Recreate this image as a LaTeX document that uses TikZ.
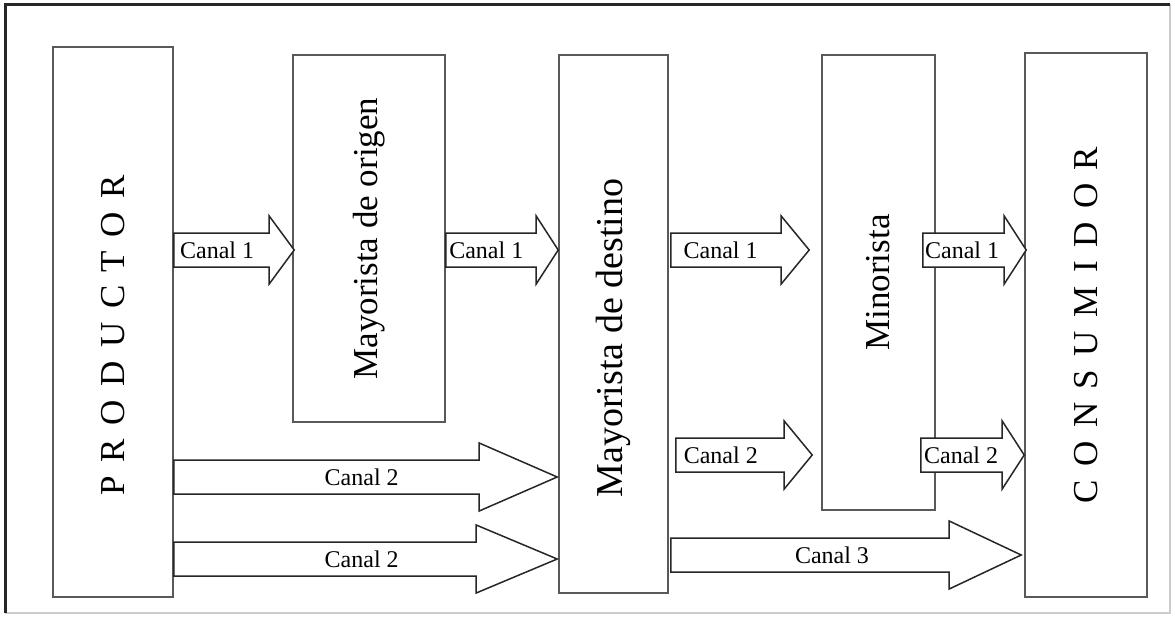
\documentclass[tikz,border=0pt]{standalone}
\usepackage{fontspec}
\setmainfont{Liberation Serif}
\usepackage{graphicx}
\usetikzlibrary{calc}
\newcommand{\vertical}[1]{\rotatebox{90}{\spaceskip=13.5pt\relax #1}}

\begin{document}
\begin{tikzpicture}[x=1pt,y=-1pt,
	caja/.style={draw=black!65,line width=1.6pt,fill=white,inner sep=0pt},
	flecha/.style={draw=black!85,line width=1.5pt,fill=white,line join=miter},
	etiq/.style={font=\fontsize{24}{26}\selectfont,inner sep=1pt},
	grande/.style={font=\fontsize{35}{40}\selectfont}]
	\useasboundingbox (0,0) rectangle (1175,619);
	% marco
	\draw[black!20,line width=2pt] (1170,4) -- (1170,613) -- (5,613);
	\draw[black!85,line width=3pt] (5,613) -- (5,4) -- (1170,4);
	% agentes
	\node[caja,grande,minimum width=120,minimum height=550] (prod) at (113,322) {\vertical{P R O D U C T O R\hspace*{26pt}}};
	\node[caja,grande,minimum width=152,minimum height=367] (orig) at (369,238.5) {\rotatebox{90}{Mayorista de origen}};
	\node[caja,font=\fontsize{38}{42}\selectfont,minimum width=109,minimum height=538] (dest) at (613.5,324) {\rotatebox{90}{Mayorista de destino\hspace*{28pt}}};
	\node[caja,grande,minimum width=113,minimum height=455] (mino) at (878.5,282.5) {\rotatebox{90}{Minorista}};
	\node[caja,grande,minimum width=122,minimum height=544] (cons) at (1086,325) {\vertical{C O N S U M I D O R}};
	% canales
	\foreach \ini/\fin/\yy/\dini/\dfin/\lh/\txt/\ps in {
		prod/orig/250/0/2/25/Canal 1/0.36,
		orig/dest/250/0/0/22/Canal 1/0.36,
		dest/mino/250/2/-12/28/Canal 1/0.36,
		mino/cons/250/-13/2/22/Canal 1/0.38,
		prod/dest/477/0/-1/78/Canal 2/0.49,
		prod/dest/559/0/-1/81/Canal 2/0.49,
		dest/mino/455/7/-9/28/Canal 2/0.33,
		mino/cons/455/-15/0/22/Canal 2/0.39,
		dest/cons/555/2/-3/72/Canal 3/0.46}{
		\path (\ini.east |- 0,\yy) ++(\dini,0) coordinate (s)
			(\fin.west |- 0,\yy) ++(\dfin,0) coordinate (t);
		\draw[flecha] ($(s)+(0,-17)$) -- ($(t)+(-\lh,-17)$) -- ($(t)+(-\lh,-34)$) -- (t)
			-- ($(t)+(-\lh,34)$) -- ($(t)+(-\lh,17)$) -- ($(s)+(0,17)$) -- cycle;
		\path (s) -- (t) node[etiq,pos=\ps] (lab) {\txt};}
\end{tikzpicture}
\end{document}
